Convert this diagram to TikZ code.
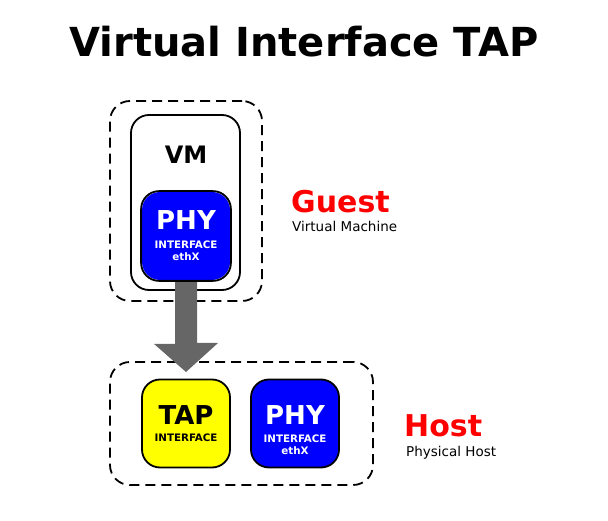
\documentclass[tikz,border=0pt]{standalone}
\usepackage{fontspec}
\setmainfont{DejaVu Sans}
\usetikzlibrary{positioning}
\definecolor{arrowgray}{HTML}{666666}
\definecolor{ifblue}{HTML}{0000FF}
\definecolor{tapyellow}{HTML}{FFFF00}
\definecolor{labelred}{HTML}{FF0000}
\begin{document}
\begin{tikzpicture}[x=1pt,y=-1pt,
	zone/.style={draw,dash pattern=on 10pt off 6pt,line width=1.8pt,rounded corners=20pt},
	vmbox/.style={draw,line width=1.8pt,rounded corners=18pt,minimum width=109pt,minimum height=175pt},
	ifbox/.style={draw,line width=1.8pt,rounded corners=18pt,minimum width=88pt,minimum height=88pt,inner sep=0pt},
	bigtxt/.style={font=\fontsize{26}{26}\selectfont\bfseries},
	smalltxt/.style={font=\fontsize{10.3}{12}\selectfont\bfseries},
	redtxt/.style={anchor=base west,inner sep=0pt,font=\fontsize{30}{30}\selectfont\bfseries,text=labelred},
	subtxt/.style={anchor=base west,inner sep=0pt,font=\fontsize{13.5}{13.5}\selectfont}]
	\useasboundingbox (0,0) rectangle (608,521);
	% title
	\node (title) at (304,42) {\fontsize{40}{40}\selectfont\bfseries Virtual Interface TAP};
	% guest side
	\node[zone,minimum width=152pt,minimum height=200pt] (guestzone) at (186,201) {};
	\node[vmbox] (vm) at (185.5,202.5) {};
	\node[font=\fontsize{24}{24}\selectfont\bfseries] (vmlabel) at (186,155) {VM};
	\node[ifbox,draw=none,fill=ifblue] (guestphy) at (186,236) {};
	\node[bigtxt,text=white] (guestphyt) at (186,220) {PHY};
	\node[smalltxt,text=white,align=center] (guestphyi) at (186,251) {INTERFACE\\ethX};
	\node[redtxt] (guest) at (291,213) {Guest};
	\node[subtxt] (guestsub) at (292,232) {Virtual Machine};
	% host side
	\node[zone,minimum width=263pt,minimum height=123pt] (hostzone) at (241.5,423.5) {};
	\node[ifbox,fill=tapyellow] (tap) at (186,423.5) {};
	\node[bigtxt] (tapt) at (186,415) {TAP};
	\node[smalltxt] (tapi) at (186,438) {INTERFACE};
	\node[ifbox,fill=ifblue] (hostphy) at (295,423.5) {};
	\node[bigtxt,text=white] (hostphyt) at (295,415) {PHY};
	\node[smalltxt,text=white,align=center] (hostphyi) at (295,445) {INTERFACE\\ethX};
	\node[redtxt] (host) at (404,436) {Host};
	\node[subtxt] (hostsub) at (406,456) {Physical Host};
	% tap arrow
	\coordinate (tip) at (186,372);
	\fill[arrowgray] (guestphy.south) ++(-11,0) -- ++(0,63) -- ++(-21,0) -- (tip) -- ++(32,-29) -- ++(-21,0) -- ++(0,-63) -- cycle;
	\draw[line width=1.8pt,rounded corners=18pt] (guestphy.south west) rectangle (guestphy.north east);
\end{tikzpicture}
\end{document}
